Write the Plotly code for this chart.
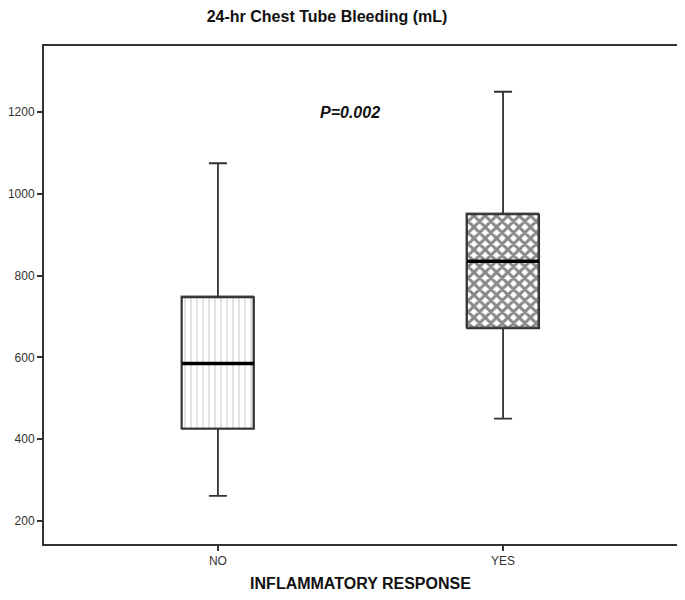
import plotly.graph_objects as go

# Data
categories = ["NO", "YES"]
lower_whisker = [261, 450]
q1_vals = [425, 671]
median_vals = [585, 835]
q3_vals = [747, 950]
upper_whisker = [1075, 1250]
y_ticks = [200, 400, 600, 800, 1000, 1200]
p_text = "P=0.002"

xpos = list(range(len(categories)))
BOX_W = 0.253
FONT = "Liberation Sans, Arial, sans-serif"

# page body has an 8px margin; size the figure so it fills the window
W, H = 677, 592

fig = go.Figure()

# patterned fills for the boxes
fig.add_trace(go.Bar(
    x=xpos,
    y=[q3 - q1 for q1, q3 in zip(q1_vals, q3_vals)],
    base=q1_vals,
    width=BOX_W,
    marker=dict(
        color="white",
        line=dict(color="#555", width=1.5),
        pattern=dict(
            shape=["|", "x"],
            fgcolor=["#a0a0a0", "#111111"],
            bgcolor="white",
            size=[6, 8],
            solidity=[0.2, 0.6],
        ),
    ),
    hoverinfo="skip",
    showlegend=False,
))

# box outline + whiskers
fig.add_trace(go.Box(
    x=xpos,
    q1=q1_vals,
    median=median_vals,
    q3=q3_vals,
    lowerfence=lower_whisker,
    upperfence=upper_whisker,
    width=BOX_W,
    whiskerwidth=0.25,
    fillcolor="rgba(0,0,0,0)",
    line=dict(color="#333", width=1.8),
    boxpoints=False,
    hoverinfo="skip",
    showlegend=False,
))

# thicker median lines
for i, m in zip(xpos, median_vals):
    fig.add_trace(go.Scatter(
        x=[i - BOX_W / 2, i + BOX_W / 2],
        y=[m, m],
        mode="lines",
        line=dict(color="black", width=3.5),
        hoverinfo="skip",
        showlegend=False,
    ))

fig.add_annotation(
    x=0.463, y=1200, xref="x", yref="y",
    text="<b><i>" + p_text + "</i></b>",
    showarrow=False,
    font=dict(family=FONT, size=16, color="#111"),
)

fig.update_layout(
    width=W, height=H,
    margin=dict(l=36, r=8, t=38, b=56, autoexpand=False),
    paper_bgcolor="white",
    plot_bgcolor="white",
    font=dict(family=FONT, size=12, color="#333"),
    title=dict(
        text="<b>24-hr Chest Tube Bleeding (mL)</b>",
        x=319 / W, xanchor="center",
        y=1 - 8 / H, yanchor="middle",
        font=dict(family=FONT, size=16, color="#111"),
    ),
    bargap=0,
    barmode="overlay",
)

fig.update_xaxes(
    range=[-0.61, 1.61],
    tickvals=xpos, ticktext=categories,
    ticks="outside", ticklen=5, tickwidth=2, tickcolor="#333",
    showline=True, linecolor="#333", linewidth=2, mirror=True,
    showgrid=False, zeroline=False, automargin=False,
    tickfont=dict(family=FONT, size=12, color="#333"),
    title=dict(text="<b>INFLAMMATORY RESPONSE</b>",
               font=dict(family=FONT, size=16, color="#111"), standoff=10),
)
fig.update_yaxes(
    range=[143, 1362],
    tickvals=y_ticks,
    ticks="outside", ticklen=5, tickwidth=2, tickcolor="#333",
    showline=True, linecolor="#333", linewidth=2, mirror=True,
    showgrid=False, zeroline=False, automargin=False,
    tickfont=dict(family=FONT, size=12, color="#333"),
)

fig.write_html("out.html")
